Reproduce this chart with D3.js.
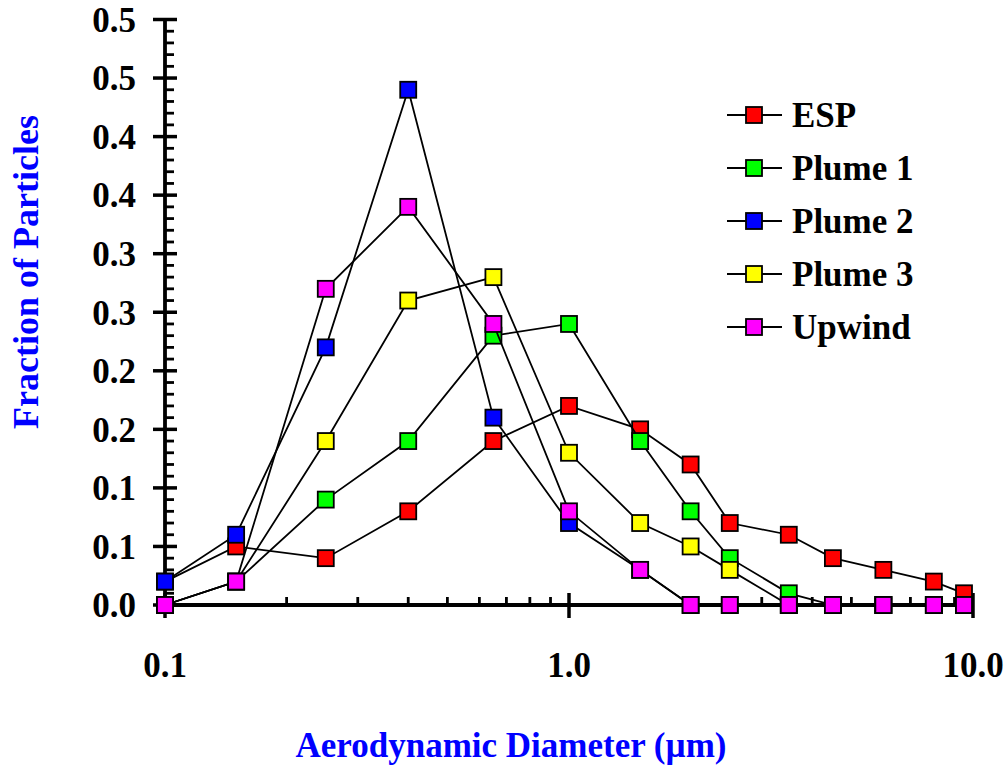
<!DOCTYPE html>
<html>
<head>
<meta charset="utf-8">
<script src="https://cdn.jsdelivr.net/npm/d3@7"></script>
<style>
  body { margin: 0; background: #ffffff; }
  svg { display: block; }
  text { font-family: "Liberation Serif", "Times New Roman", serif; font-weight: bold; }
</style>
</head>
<body>
<svg id="chart" width="1008" height="766"></svg>
<script>
// Aerodynamic diameter bins (µm)
const diameters = [0.1, 0.15, 0.25, 0.4, 0.65, 1.0, 1.5, 2.0, 2.5, 3.5, 4.5, 6.0, 8.0, 9.5];

// Fraction of particles in each bin, one array per sampling location
const espValues    = [0.02, 0.05, 0.04, 0.08, 0.14, 0.17, 0.15, 0.12, 0.07, 0.06, 0.04, 0.03, 0.02, 0.01];
const plume1Values = [0.00, 0.02, 0.09, 0.14, 0.23, 0.24, 0.14, 0.08, 0.04, 0.01, 0.00, 0.00, 0.00, 0.00];
const plume2Values = [0.02, 0.06, 0.22, 0.44, 0.16, 0.07, 0.03, 0.00, 0.00, 0.00, 0.00, 0.00, 0.00, 0.00];
const plume3Values = [0.00, 0.02, 0.14, 0.26, 0.28, 0.13, 0.07, 0.05, 0.03, 0.00, 0.00, 0.00, 0.00, 0.00];
const upwindValues = [0.00, 0.02, 0.27, 0.34, 0.24, 0.08, 0.03, 0.00, 0.00, 0.00, 0.00, 0.00, 0.00, 0.00];

const seriesNames  = ["ESP", "Plume 1", "Plume 2", "Plume 3", "Upwind"];
const seriesColors = ["#ff0000", "#00ff00", "#0000ff", "#ffff00", "#ff00ff"];

// Axis ticks and their printed labels (one decimal place)
const yTickValues = [0, 0.05, 0.10, 0.15, 0.20, 0.25, 0.30, 0.35, 0.40, 0.45, 0.50];
const yTickLabels = ["0.0", "0.1", "0.1", "0.2", "0.2", "0.3", "0.3", "0.4", "0.4", "0.5", "0.5"];
const xTickValues = [0.1, 1, 10];
const xTickLabels = ["0.1", "1.0", "10.0"];

const series = seriesNames.map((name, i) => ({
  name,
  color: seriesColors[i],
  values: [espValues, plume1Values, plume2Values, plume3Values, upwindValues][i]
}));

const svg = d3.select("#chart");

const x = d3.scaleLog().domain([0.1, 10]).range([165, 973]);
const y = d3.scaleLinear().domain([0, 0.5]).range([605, 19.5]);

const axisColor = "#000000";
const axes = svg.append("g");

// Y axis: line, minor ticks every 0.01, major ticks crossing the line
const yMinor = d3.range(0, 51).map(d => d / 100).filter(v => Math.round(v * 100) % 5 !== 0);
axes.selectAll(".yminor").data(yMinor).join("line")
  .attr("x1", x(0.1) - 1).attr("x2", x(0.1) + 9)
  .attr("y1", d => y(d)).attr("y2", d => y(d))
  .attr("stroke", axisColor).attr("stroke-width", 2.8);
axes.selectAll(".ymajor").data(yTickValues).join("line")
  .attr("x1", x(0.1) - 12).attr("x2", x(0.1) + 12)
  .attr("y1", d => y(d)).attr("y2", d => y(d))
  .attr("stroke", axisColor).attr("stroke-width", 3.5);
axes.append("line")
  .attr("x1", x(0.1)).attr("x2", x(0.1))
  .attr("y1", y(0)).attr("y2", y(0.5))
  .attr("stroke", axisColor).attr("stroke-width", 3.8);
axes.selectAll(".ylabel").data(yTickValues).join("text")
  .attr("x", 136).attr("y", d => y(d)).attr("dy", "0.35em")
  .attr("text-anchor", "end").attr("font-size", 35).attr("fill", "#000")
  .text((d, i) => yTickLabels[i]);

// X axis (log): minor ticks at 2..9 of each decade, major ticks at decades
const xMinor = [];
[0.1, 1].forEach(dec => { for (let k = 2; k <= 9; k++) xMinor.push(dec * k); });
axes.selectAll(".xminor").data(xMinor).join("line")
  .attr("x1", d => x(d)).attr("x2", d => x(d))
  .attr("y1", y(0)).attr("y2", y(0) - 8)
  .attr("stroke", axisColor).attr("stroke-width", 2.8);
axes.selectAll(".xmajor").data(xTickValues).join("line")
  .attr("x1", d => x(d)).attr("x2", d => x(d))
  .attr("y1", y(0) - 12).attr("y2", y(0) + 13)
  .attr("stroke", axisColor).attr("stroke-width", 3.5);
axes.append("line")
  .attr("x1", x(0.1)).attr("x2", x(10))
  .attr("y1", y(0)).attr("y2", y(0))
  .attr("stroke", axisColor).attr("stroke-width", 3.8);
axes.selectAll(".xlabel").data(xTickValues).join("text")
  .attr("x", d => x(d)).attr("y", 677)
  .attr("text-anchor", "middle").attr("font-size", 35).attr("fill", "#000")
  .text((d, i) => xTickLabels[i]);

// Axis titles
svg.append("text")
  .attr("x", 511).attr("y", 757)
  .attr("text-anchor", "middle").attr("font-size", 35).attr("fill", "#0000ff")
  .text("Aerodynamic Diameter (µm)");
svg.append("text")
  .attr("transform", "translate(38,272) rotate(-90)")
  .attr("text-anchor", "middle").attr("font-size", 36).attr("fill", "#0000ff")
  .text("Fraction of Particles");

// Series: connecting line followed by square markers, drawn in order
const line = d3.line().x((d, i) => x(diameters[i])).y(d => y(d));
const markerSize = 16;
const plot = svg.append("g");
series.forEach(s => {
  const g = plot.append("g");
  g.append("path")
    .attr("d", line(s.values))
    .attr("fill", "none").attr("stroke", "#000").attr("stroke-width", 1.8);
  g.selectAll("rect").data(s.values).join("rect")
    .attr("x", (d, i) => x(diameters[i]) - markerSize / 2)
    .attr("y", d => y(d) - markerSize / 2)
    .attr("width", markerSize).attr("height", markerSize)
    .attr("fill", s.color).attr("stroke", "#000").attr("stroke-width", 1.8);
});

// Legend
const legend = svg.append("g");
const legendY = d3.scalePoint().domain(seriesNames).range([115, 327]);
series.forEach(s => {
  const ly = legendY(s.name);
  legend.append("line")
    .attr("x1", 727).attr("x2", 782).attr("y1", ly).attr("y2", ly)
    .attr("stroke", "#000").attr("stroke-width", 1.8);
  legend.append("rect")
    .attr("x", 754 - 8).attr("y", ly - 8).attr("width", 16).attr("height", 16)
    .attr("fill", s.color).attr("stroke", "#000").attr("stroke-width", 1.8);
  legend.append("text")
    .attr("x", 792).attr("y", ly).attr("dy", "0.35em")
    .attr("font-size", 35).attr("fill", "#000")
    .text(s.name);
});
</script>
</body>
</html>
